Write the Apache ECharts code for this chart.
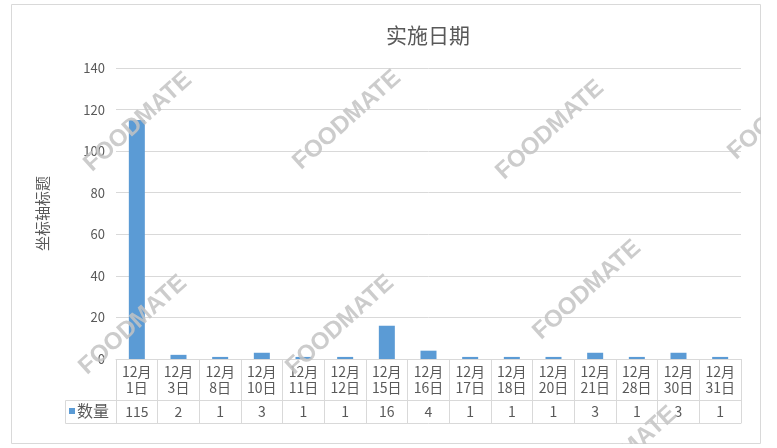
<!DOCTYPE html>
<html>
<head>
<meta charset="utf-8">
<script src="https://cdn.jsdelivr.net/npm/echarts@6/dist/echarts.min.js"></script>
<style>
html,body{margin:0;padding:0;background:#fff;}
#main{width:777px;height:448px;}
</style>
</head>
<body>
<div id="main"></div>
<script>
// ---- data ----
var categories = ['12月1日','12月3日','12月8日','12月10日','12月11日','12月12日','12月15日','12月16日','12月17日','12月18日','12月20日','12月21日','12月28日','12月30日','12月31日'];
var counts = [115, 2, 1, 3, 1, 1, 16, 4, 1, 1, 1, 3, 1, 3, 1];
var seriesName = '数量';
var chartTitle = '实施日期';
var yAxisTitle = '坐标轴标题';
var yMin = 0, yMax = 140, yInterval = 20;
var watermarkText = 'FOODMATE';

// ---- chart ----
var chart = echarts.init(document.getElementById('main'), null, {renderer: 'canvas'});
var gridColor = '#d9d9d9';
var textColor = '#595959';
var cjkFont = '"Noto Sans CJK SC", "Liberation Sans", sans-serif';

var wmPos = [[138,122],[347,120],[550,130],[782,110],[133,325],[340,325],[587,290],[623,456]];
var graphics = [
  {type:'rect', z:0, silent:true, shape:{x:11.5,y:4.5,width:749,height:439}, style:{fill:'none', stroke:gridColor, lineWidth:1}},
  {type:'polyline', z:10, silent:true, shape:{points:[[116,400.5],[65.5,400.5],[65.5,423.5],[116,423.5]]}, style:{fill:'none', stroke:gridColor, lineWidth:1}}
];
wmPos.forEach(function(p){
  graphics.push({type:'text', z:100, silent:true, x:p[0], y:p[1], rotation: 42*Math.PI/180,
    style:{text:watermarkText, fontSize:24, fontWeight:'bold', fontFamily:'"Liberation Sans", Arial, sans-serif', fill:'rgba(195,195,195,0.85)', align:'center', verticalAlign:'middle', textAlign:'center', textVerticalAlign:'middle'}});
});
graphics.push({type:'rect', z:101, silent:true, shape:{x:761,y:0,width:16,height:448}, style:{fill:'#ffffff'}});
graphics.push({type:'rect', z:101, silent:true, shape:{x:0,y:444,width:777,height:4}, style:{fill:'#ffffff'}});

var option = {
  animation: false,
  textStyle: {fontFamily: cjkFont},
  title: {
    text: chartTitle, left: 423, top: 20, textAlign: 'center',
    textStyle: {fontFamily: cjkFont, fontSize: 21, fontWeight: 'normal', color: textColor}
  },
  legend: {
    data: [seriesName], left: 69, top: 403, padding: 0, icon: 'rect',
    itemWidth: 6, itemHeight: 6, itemGap: 2,
    textStyle: {fontSize: 16, color: textColor, fontFamily: cjkFont, padding:[0,0,0,-3]}
  },
  grid: {left: 116, right: 36, top: 68, bottom: 89},
  xAxis: [
    {
      type: 'category', data: categories, position: 'bottom',
      axisLine: {lineStyle: {color: gridColor}},
      axisTick: {show: true, length: 64, lineStyle: {color: gridColor}},
      axisLabel: {interval: 0, margin: 5, fontSize: 14, lineHeight: 16, color: textColor, fontFamily: cjkFont,
        formatter: function(v){ return v.replace('月', '月\n'); }}
    },
    {
      type: 'category', data: categories, position: 'bottom', offset: 41,
      axisLine: {lineStyle: {color: gridColor}},
      axisTick: {show: false},
      axisLabel: {interval: 0, margin: 4, fontSize: 14, lineHeight: 16, color: textColor, fontFamily: cjkFont,
        formatter: function(v, i){ return String(counts[i]); }}
    },
    {
      type: 'category', data: categories, position: 'bottom', offset: 64,
      axisLine: {lineStyle: {color: gridColor}},
      axisTick: {show: false},
      axisLabel: {show: false}
    }
  ],
  yAxis: {
    type: 'value', min: yMin, max: yMax, interval: yInterval,
    name: yAxisTitle, nameLocation: 'middle', nameGap: 66, nameRotate: 90,
    nameTextStyle: {fontSize: 15, color: textColor, fontFamily: cjkFont},
    axisLine: {show: false}, axisTick: {show: false},
    axisLabel: {margin: 11, fontSize: 13, color: textColor, fontFamily: cjkFont},
    splitLine: {lineStyle: {color: gridColor}}
  },
  series: [{
    type: 'bar', name: seriesName, data: counts, xAxisIndex: 0,
    barWidth: 16, itemStyle: {color: '#5B9BD5'}
  }],
  graphic: graphics
};
chart.setOption(option);
</script>
</body>
</html>
